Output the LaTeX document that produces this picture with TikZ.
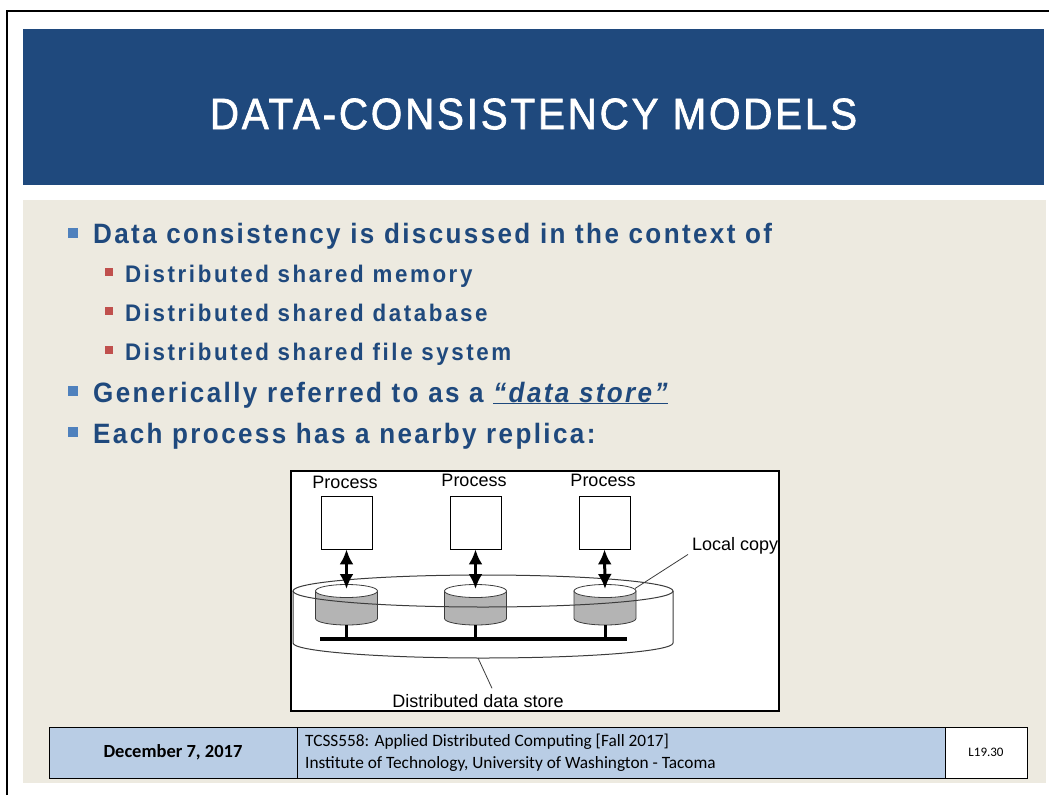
\documentclass[tikz,border=0pt]{standalone}
\usepackage{fontspec}
\setmainfont{Liberation Sans}
\newfontfamily\headfont[FakeStretch=0.92, FakeBold=1.5, LetterSpace=6.2]{Liberation Sans}
\newfontfamily\lvlonefont[FakeStretch=0.93, LetterSpace=8.5]{Liberation Sans}
\newfontfamily\lvltwofont[FakeStretch=0.93, LetterSpace=10.8]{Liberation Sans}
\newfontfamily\footfont{Carlito}
\usetikzlibrary{arrows.meta}

\definecolor{titleblue}{RGB}{31,73,125}
\definecolor{slidebg}{RGB}{237,234,224}
\definecolor{bulletblue}{RGB}{79,129,189}
\definecolor{bulletred}{RGB}{192,80,77}
\definecolor{footblue}{RGB}{185,205,229}
\definecolor{cylgray}{RGB}{180,180,180}
\definecolor{storegray}{RGB}{60,60,60}

\tikzset{
  lvlone/.style={anchor=base west, inner sep=0pt, text=titleblue,
    font=\lvlonefont\bfseries\fontsize{28}{34}\selectfont},
  lvltwo/.style={anchor=base west, inner sep=0pt, text=titleblue,
    font=\lvltwofont\bfseries\fontsize{24}{29}\selectfont},
  bluebullet/.style={fill=bulletblue, minimum size=10pt, inner sep=0pt},
  redbullet/.style={fill=bulletred, minimum size=8pt, inner sep=0pt},
  procbox/.style={draw, fill=white, line width=0.8pt, minimum width=51pt,
    minimum height=53pt, inner sep=0pt},
  lbl/.style={inner sep=0pt, font=\fontsize{18}{21}\selectfont},
  storeline/.style={draw=storegray, line width=1pt},
  dblarrow/.style={line width=3pt,
    {Latex[length=15pt,width=14pt]}-{Latex[length=15pt,width=14pt]}},
  leader/.style={draw=storegray, line width=0.8pt},
  footcell/.style={draw, line width=1pt, minimum height=51pt, inner sep=0pt},
  foottext/.style={inner sep=0pt, font=\footfont\fontsize{17.3}{20}\selectfont},
}

\begin{document}
\begin{tikzpicture}[x=1pt, y=-1pt]
\useasboundingbox (0,0) rectangle (1049,795);
\fill[white] (0,0) rectangle (1049,795);

% slide frame, title band and body background
\draw[line width=2pt] (7,795) -- (7,11) -- (1049,11);
\fill[titleblue] (23,29) rectangle (1044,185);
\fill[slidebg] (23,200) rectangle (1046,783);

\node[text=white, inner sep=0pt, font=\headfont\fontsize{44}{50}\selectfont] (title)
  at (533.5,114) {DATA-CONSISTENCY MODELS};

% bullet list
\node[bluebullet] (b1) at (73,233) {};
\node[lvlone] (t1) at (93,243) {Data consistency is discussed in the context of};
\node[redbullet] (r1) at (109,272) {};
\node[lvltwo] (s1) at (125,282) {Distributed shared memory};
\node[redbullet] (r2) at (109,311) {};
\node[lvltwo] (s2) at (125,321) {Distributed shared database};
\node[redbullet] (r3) at (109,350) {};
\node[lvltwo] (s3) at (125,360) {Distributed shared file system};
\node[bluebullet] (b2) at (73,391) {};
\node[lvlone] (t2) at (93,402) {Generically referred to as a \underline{\itshape “data store”}};
\node[bluebullet] (b3) at (73,432) {};
\node[lvlone] (t3) at (93,443) {Each process has a nearby replica:};

% figure panel
\node[draw, line width=1.2pt, fill=white, minimum width=488pt, minimum height=240pt,
  inner sep=0pt] (panel) at (535,591) {};

% processes
\node[lbl, anchor=base] (l1) at (345,488.5) {Process};
\node[lbl, anchor=base] (l2) at (474,486.5) {Process};
\node[lbl, anchor=base] (l3) at (603,486.5) {Process};
\node[procbox] (p1) at (346.5,522.5) {};
\node[procbox] (p2) at (475.5,522.5) {};
\node[procbox] (p3) at (604.5,522.5) {};

% distributed store: sides and front bottom rim
\draw[storeline] (293,591) -- (293,643)
  arc[start angle=180, end angle=0, x radius=190, y radius=15] -- (673,591);
\coordinate (storebot) at (478,658);

% interconnect bus
\coordinate (busL) at (320,639);
\coordinate (busR) at (627,639);
\draw[line width=4pt] (busL) -- (busR);

% local copies
\foreach \cx/\nm in {346.5/c1, 475.5/c2, 605/c3} {
  \filldraw[fill=cylgray, draw=storegray, line width=0.8pt] (\cx-31,591) -- (\cx-31,618.5)
    arc[start angle=180, end angle=0, x radius=31, y radius=6.5] -- (\cx+31,591) -- cycle;
  \filldraw[fill=white, draw=storegray, line width=0.8pt] (\cx,591)
    ellipse[x radius=31, y radius=6.5];
  \coordinate (top\nm) at (\cx,589);
  \coordinate (bot\nm) at (\cx,625);
}
\coordinate (rimc3) at (635,588.5);

\foreach \nm in {c1,c2,c3}
  \draw[line width=3pt] (bot\nm) -- (bot\nm |- busL);

% top rim of the distributed store, passing in front of the copies
\draw[storeline] (483,591) ellipse[x radius=190, y radius=16];

% process <-> local copy
\draw[dblarrow] (p1.south) -- (topc1);
\draw[dblarrow] (p2.south) -- (topc2);
\draw[dblarrow] (p3.south) -- (topc3);

% callouts
\node[lbl, anchor=base west] (lc) at (692,550.5) {Local copy};
\draw[leader] (rimc3) -- ([xshift=-4pt]lc.south west);
\node[lbl, anchor=base] (dds) at (478,707.5) {Distributed data store};
\draw[leader] (storebot) -- ([shift={(14,-6)}]dds.north);

% footer
\node[footcell, fill=footblue, minimum width=248pt] (date) at (173,752.5) {};
\node[footcell, fill=footblue, minimum width=648pt] (course) at (621,752.5) {};
\node[footcell, fill=white, minimum width=82pt] (slide) at (986,752.5) {};
\node[foottext, font=\footfont\bfseries\fontsize{18.5}{21}\selectfont] (datetxt)
  at (date.center) {December 7, 2017};
\node[foottext, anchor=base west] (c1txt) at (305,746.5)
  {TCSS558: Applied Distributed Computing [Fall 2017]};
\node[foottext, anchor=base west] (c2txt) at (305,768.5)
  {Institute of Technology, University of Washington - Tacoma};
\node[foottext, font=\footfont\fontsize{13}{15}\selectfont] (slidetxt)
  at (slide.center) {L19.30};
\end{tikzpicture}
\end{document}
